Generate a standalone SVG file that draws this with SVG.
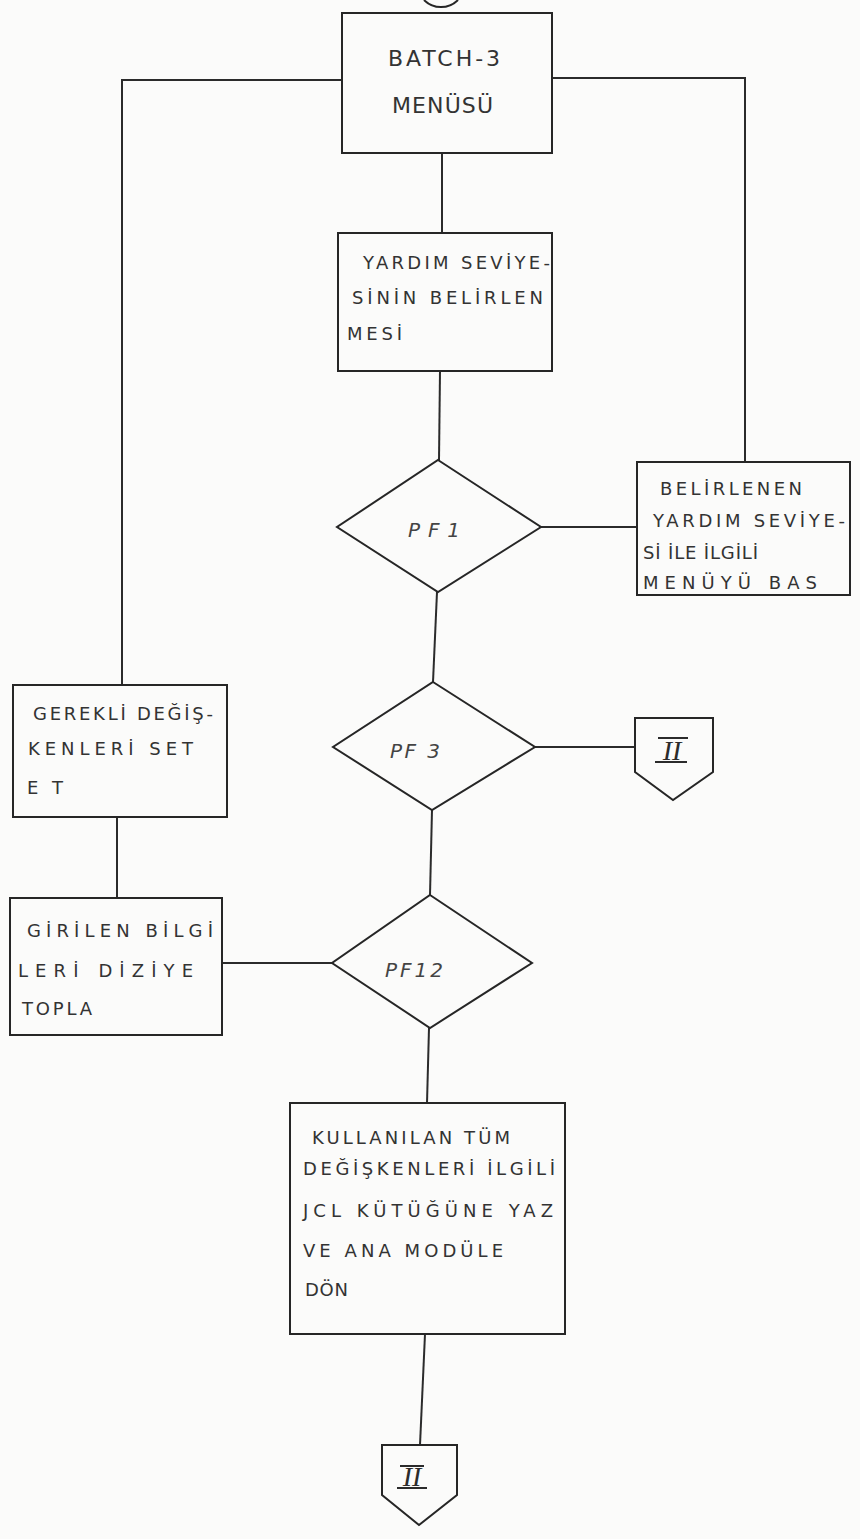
<svg xmlns="http://www.w3.org/2000/svg" width="860" height="1539" viewBox="0 0 860 1539">
  <style>
    .bg { fill: #fbfbfa; }
    .shape { fill: none; stroke: #262626; stroke-width: 2; stroke-linejoin: miter; }
    .wire { fill: none; stroke: #2b2b2b; stroke-width: 2; }
    .lbl { font-family: "DejaVu Sans", "Liberation Sans", sans-serif; font-size: 18px; fill: #333; }
    .big { font-family: "DejaVu Sans", "Liberation Sans", sans-serif; font-size: 22px; fill: #333; }
    .dia { font-family: "DejaVu Sans", "Liberation Sans", sans-serif; font-size: 20px; font-style: italic; fill: #444; }
    .rom { font-family: "Liberation Serif", "Times New Roman", serif; font-size: 28px; font-style: italic; fill: #2b2b2b; text-anchor: middle; }
    .bar { stroke: #2b2b2b; stroke-width: 2; }
  </style>
  <rect class="bg" x="0" y="0" width="860" height="1539"/>

  <!-- connectors -->
  <g id="connectors">
    <path class="wire" d="M342 80 L122 80 L122 685"/>
    <path class="wire" d="M552 78 L745 78 L745 462"/>
    <path class="wire" d="M442 153 L442 233"/>
    <path class="wire" d="M440 371 L439 460"/>
    <path class="wire" d="M541 527 L637 527"/>
    <path class="wire" d="M437 592 L433 682"/>
    <path class="wire" d="M534 747 L635 747"/>
    <path class="wire" d="M117 817 L117 898"/>
    <path class="wire" d="M432 810 L430 895"/>
    <path class="wire" d="M222 963 L332 963"/>
    <path class="wire" d="M429 1028 L427 1103"/>
    <path class="wire" d="M425 1334 L420 1445"/>
  </g>

  <!-- off-page start connector, mostly cut by the top edge -->
  <g id="start">
    <path class="shape" d="M424 0 A24 24 0 0 0 458 0"/>
  </g>

  <g id="batch-menu">
    <rect class="shape" x="342" y="13" width="210" height="140"/>
    <text class="big" x="388" y="66" textLength="112" lengthAdjust="spacing">BATCH-3</text>
    <text class="big" x="392" y="113" textLength="101" lengthAdjust="spacing">MENÜSÜ</text>
  </g>

  <g id="help-level">
    <rect class="shape" x="338" y="233" width="214" height="138"/>
    <text class="lbl" x="363" y="269" textLength="187" lengthAdjust="spacing">YARDIM SEVİYE-</text>
    <text class="lbl" x="352" y="304" textLength="191" lengthAdjust="spacing">SİNİN BELİRLEN</text>
    <text class="lbl" x="347" y="340" textLength="55" lengthAdjust="spacing">MESİ</text>
  </g>

  <g id="pf1">
    <polygon class="shape" points="438,460 541,527 438,592 337,527"/>
    <text class="dia" x="408" y="537" textLength="52" lengthAdjust="spacing">PF1</text>
  </g>

  <g id="show-help">
    <rect class="shape" x="637" y="462" width="213" height="133"/>
    <text class="lbl" x="660" y="495" textLength="142" lengthAdjust="spacing">BELİRLENEN</text>
    <text class="lbl" x="653" y="527" textLength="192" lengthAdjust="spacing">YARDIM SEVİYE-</text>
    <text class="lbl" x="643" y="559" textLength="115" lengthAdjust="spacing">Sİ İLE İLGİLİ</text>
    <text class="lbl" x="643" y="589" textLength="174" lengthAdjust="spacing">MENÜYÜ BAS</text>
  </g>

  <g id="pf3">
    <polygon class="shape" points="433,682 535,747 432,810 333,747"/>
    <text class="dia" x="390" y="758" textLength="50" lengthAdjust="spacing">PF 3</text>
  </g>

  <g id="goto-ii-right">
    <polygon class="shape" points="635,718 713,718 713,772 673,800 635,772"/>
    <line class="bar" x1="658" y1="738" x2="688" y2="738"/>
    <line class="bar" x1="655" y1="762" x2="687" y2="762"/>
    <text class="rom" x="672" y="760">II</text>
  </g>

  <g id="set-vars">
    <rect class="shape" x="13" y="685" width="214" height="132"/>
    <text class="lbl" x="33" y="720" textLength="180" lengthAdjust="spacing">GEREKLİ DEĞİŞ-</text>
    <text class="lbl" x="28" y="755" textLength="165" lengthAdjust="spacing">KENLERİ SET</text>
    <text class="lbl" x="27" y="794" textLength="36" lengthAdjust="spacing">ET</text>
  </g>

  <g id="collect-input">
    <rect class="shape" x="10" y="898" width="212" height="137"/>
    <text class="lbl" x="27" y="937" textLength="186" lengthAdjust="spacing">GİRİLEN BİLGİ</text>
    <text class="lbl" x="18" y="977" textLength="175" lengthAdjust="spacing">LERİ DİZİYE</text>
    <text class="lbl" x="22" y="1015" textLength="70" lengthAdjust="spacing">TOPLA</text>
  </g>

  <g id="pf12">
    <polygon class="shape" points="430,895 532,963 430,1028 332,963"/>
    <text class="dia" x="385" y="977" textLength="58" lengthAdjust="spacing">PF12</text>
  </g>

  <g id="write-jcl">
    <rect class="shape" x="290" y="1103" width="275" height="231"/>
    <text class="lbl" x="312" y="1144" textLength="198" lengthAdjust="spacing">KULLANILAN TÜM</text>
    <text class="lbl" x="303" y="1175" textLength="252" lengthAdjust="spacing">DEĞİŞKENLERİ İLGİLİ</text>
    <text class="lbl" x="303" y="1217" textLength="250" lengthAdjust="spacing">JCL KÜTÜĞÜNE YAZ</text>
    <text class="lbl" x="303" y="1257" textLength="200" lengthAdjust="spacing">VE ANA MODÜLE</text>
    <text class="lbl" x="305" y="1296" textLength="43" lengthAdjust="spacing">DÖN</text>
  </g>

  <g id="goto-ii-bottom">
    <polygon class="shape" points="382,1445 457,1445 457,1495 419,1525 382,1495"/>
    <line class="bar" x1="400" y1="1466" x2="424" y2="1466"/>
    <line class="bar" x1="397" y1="1488" x2="427" y2="1488"/>
    <text class="rom" x="412" y="1486">II</text>
  </g>
</svg>
